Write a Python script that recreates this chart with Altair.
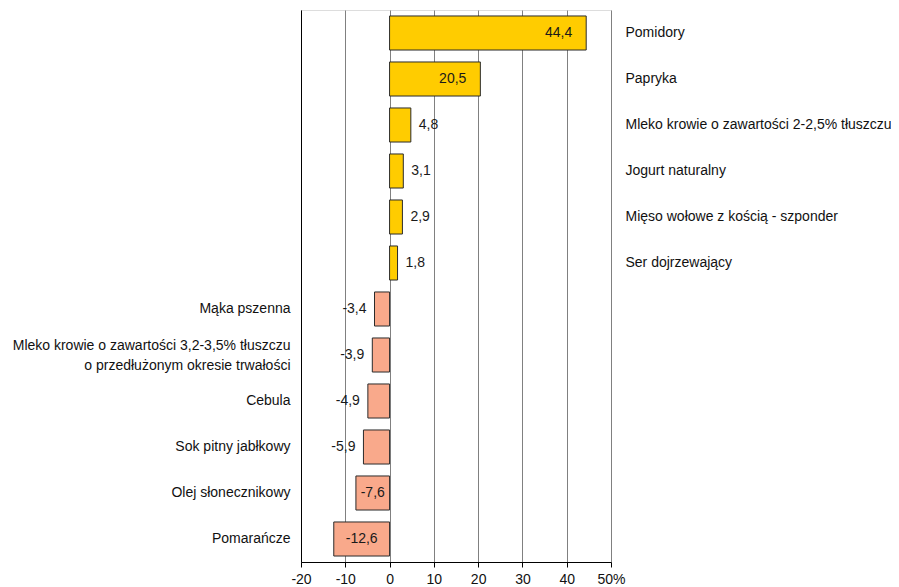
import altair as alt
import pandas as pd

categories = [
    "Pomidory",
    "Papryka",
    "Mleko krowie o zawartości 2-2,5% tłuszczu",
    "Jogurt naturalny",
    "Mięso wołowe z kością - szponder",
    "Ser dojrzewający",
    "Mąka pszenna",
    "Mleko krowie o zawartości 3,2-3,5% tłuszczu|o przedłużonym okresie trwałości",
    "Cebula",
    "Sok pitny jabłkowy",
    "Olej słonecznikowy",
    "Pomarańcze",
]
values = [44.4, 20.5, 4.8, 3.1, 2.9, 1.8, -3.4, -3.9, -4.9, -5.9, -7.6, -12.6]
x_ticks = [-20, -10, 0, 10, 20, 30, 40, 50]

df = pd.DataFrame({"cat": categories, "val": values})
df["lbl"] = df["val"].map(lambda v: f"{v:.1f}".replace(".", ","))
df["half"] = df["val"] / 2
df["sign"] = df["val"].map(lambda v: "pos" if v >= 0 else "neg")

pos_names = [c for c, v in zip(categories, values) if v >= 0]
neg_names = [c for c, v in zip(categories, values) if v < 0]

def arr(names):
    return "[" + ",".join("'" + n.replace("'", "\\'") + "'" for n in names) + "]"

FONT = "Liberation Sans, Arial, sans-serif"

y_scale = alt.Scale(paddingInner=0.26, paddingOuter=0.13)

y_enc_left = alt.Y(
    "cat:N", sort=categories, title=None, scale=y_scale,
    axis=alt.Axis(
        orient="left", ticks=False, domain=True, domainColor="#000000",
        labelExpr=f"indexof({arr(neg_names)}, datum.value) >= 0 ? split(datum.value, '|') : ''",
        labelPadding=11, labelFontSize=14, labelFont=FONT, labelColor="#111111",
        labelLimit=400, grid=False, labelLineHeight=20,
        labelOffset=alt.ConditionalAxisNumber(
            condition={"test": "indexof(datum.value, '|') >= 0", "value": -9}, value=0
        ),
    ),
)
y_enc_right = alt.Y(
    "cat:N", sort=categories, title=None, scale=y_scale,
    axis=alt.Axis(
        orient="right", ticks=False, domain=False,
        labelExpr=f"indexof({arr(pos_names)}, datum.value) >= 0 ? datum.value : ''",
        labelPadding=14, labelFontSize=14, labelFont=FONT, labelColor="#111111",
        labelLimit=400, grid=False,
    ),
)
y_none = alt.Y("cat:N", sort=categories, title=None, scale=y_scale, axis=None)

x_scale = alt.Scale(domain=[-20, 50], nice=False)
x_axis = alt.Axis(
    values=x_ticks, title=None, grid=True, gridColor="#808080", gridWidth=1,
    domainColor="#000000", tickColor="#000000", tickSize=5,
    labelFontSize=14, labelFont=FONT, labelColor="#111111", labelPadding=5,
    labelFlush=False, labelOverlap=False,
    labelExpr="datum.value == 50 ? '50%' : replace(datum.label, '\u2212', '-')",
)

bars = alt.Chart(df).mark_bar(stroke="#2b2b2b", strokeWidth=1).encode(
    y=y_enc_left,
    x=alt.X("val:Q", scale=x_scale, axis=x_axis),
    color=alt.Color("sign:N", scale=alt.Scale(domain=["pos", "neg"], range=["#FFCC00", "#F9A98B"]), legend=None),
)

base_txt = dict(fontSize=14, font=FONT, color="#1a1a1a", baseline="middle")

t_in_pos = alt.Chart(df).mark_text(align="right", dx=-14, **base_txt).encode(
    y=y_enc_right, x=alt.X("val:Q", scale=x_scale), text="lbl:N"
).transform_filter("datum.val >= 10")

t_out_pos = alt.Chart(df).mark_text(align="left", dx=8, **base_txt).encode(
    y=y_none, x=alt.X("val:Q", scale=x_scale), text="lbl:N"
).transform_filter("datum.val >= 0 && datum.val < 10")

t_out_neg = alt.Chart(df).mark_text(align="right", dx=-8, **base_txt).encode(
    y=y_none, x=alt.X("val:Q", scale=x_scale), text="lbl:N"
).transform_filter("datum.val < 0 && datum.val > -7")

t_mid_neg = alt.Chart(df).mark_text(align="center", **base_txt).encode(
    y=y_none, x=alt.X("half:Q", scale=x_scale), text="lbl:N"
).transform_filter("datum.val <= -7")

chart = alt.layer(bars, t_in_pos, t_out_pos, t_out_neg, t_mid_neg).resolve_axis(
    y="independent"
).properties(
    width=310, height=552,
    autosize=alt.AutoSizeParams(type="none"),
    padding={"left": 293, "top": 2, "right": 280, "bottom": 25},
).configure_view(stroke="#808080", strokeWidth=1).configure(background="white")

chart.save("out.html", embed_options={"renderer": "svg", "actions": False})
